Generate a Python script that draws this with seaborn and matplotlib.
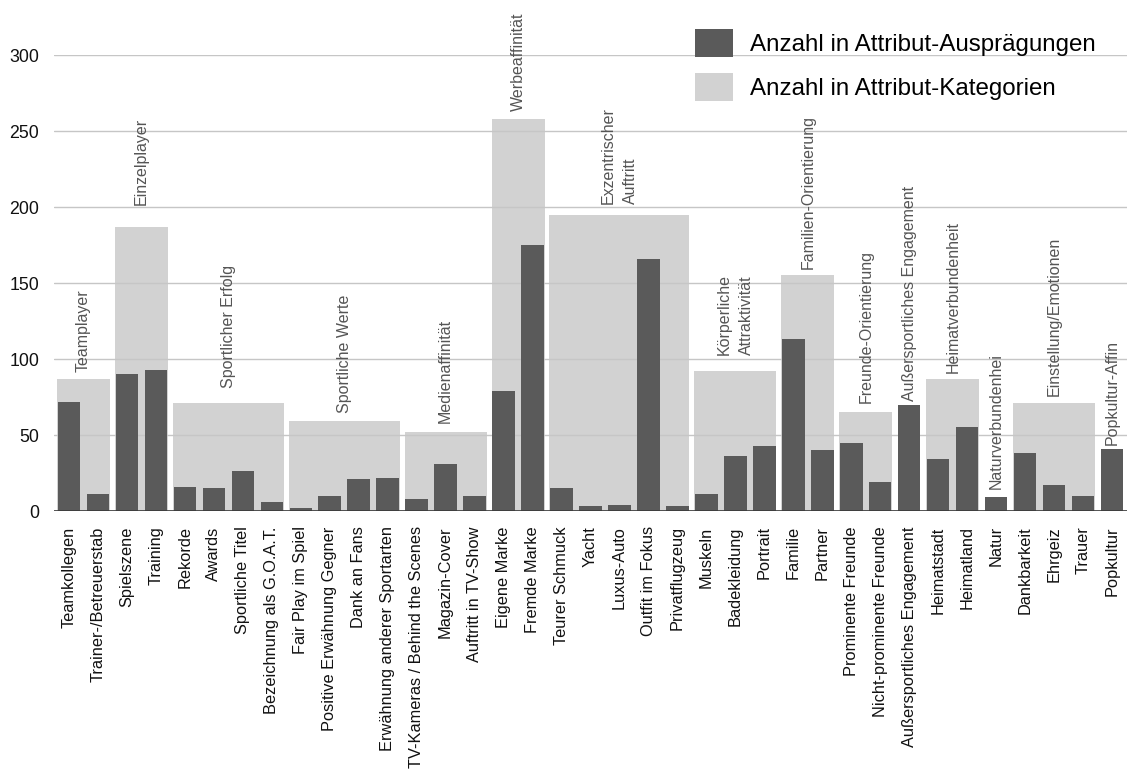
import numpy as np
import pandas as pd
import matplotlib
matplotlib.use("Agg")
import matplotlib.pyplot as plt
import seaborn as sns
from matplotlib.patches import Patch

# Attribute-level counts (dark bars)
attributes = [
    "Teamkollegen", "Trainer-/Betreuerstab", "Spielszene", "Training",
    "Rekorde", "Awards", "Sportliche Titel", "Bezeichnung als G.O.A.T.",
    "Fair Play im Spiel", "Positive Erwähnung Gegner", "Dank an Fans",
    "Erwähnung anderer Sportarten", "TV-Kameras / Behind the Scenes",
    "Magazin-Cover", "Auftritt in TV-Show", "Eigene Marke", "Fremde Marke",
    "Teurer Schmuck", "Yacht", "Luxus-Auto", "Outfit im Fokus", "Privatflugzeug",
    "Muskeln", "Badekleidung", "Portrait", "Familie", "Partner",
    "Prominente Freunde", "Nicht-prominente Freunde", "Außersportliches Engagement",
    "Heimatstadt", "Heimatland", "Natur", "Dankbarkeit", "Ehrgeiz", "Trauer",
    "Popkultur",
]
attribute_counts = [
    72, 11, 90, 93,
    16, 15, 26, 6,
    2, 10, 21, 22,
    8, 31, 10,
    79, 175,
    15, 3, 4, 166, 3,
    11, 36, 43,
    113, 40,
    45, 19,
    70,
    34, 55,
    9,
    38, 17, 10,
    41,
]

# Category-level counts (light background bars) and how many attributes each spans
categories = [
    "Teamplayer", "Einzelplayer", "Sportlicher Erfolg", "Sportliche Werte",
    "Medienaffinität", "Werbeaffinität", "Exzentrischer\nAuftritt",
    "Körperliche\nAttraktivität", "Familien-Orientierung", "Freunde-Orientierung",
    "Außersportliches Engagement", "Heimatverbundenheit", "Naturverbundenhei",
    "Einstellung/Emotionen", "Popkultur-Affin",
]
category_sizes = [2, 2, 4, 4, 3, 2, 5, 3, 2, 2, 1, 2, 1, 3, 1]
category_counts = [87, 187, 71, 59, 52, 258, 195, 92, 155, 65, 70, 87, 9, 71, 41]

y_ticks = [0, 50, 100, 150, 200, 250, 300]

DARK = "#5a5a5a"
LIGHT = "#d2d2d2"
BAR_W = 0.77

sns.set_theme(style="white")
plt.rcParams["font.family"] = ["Liberation Sans", "DejaVu Sans"]

fig = plt.figure(figsize=(11.33, 7.78), dpi=100)
ax = fig.add_axes([54.3 / 1133, 1 - 511 / 778, (1126.7 - 54.3) / 1133, 456 / 778])

df = pd.DataFrame({"attribute": attributes, "count": attribute_counts})
sns.barplot(data=df, x="attribute", y="count", color=DARK, saturation=1,
            width=BAR_W, ax=ax, zorder=3, linewidth=0, edgecolor="none")

# Category background bars spanning their attribute slots
starts = np.concatenate([[0], np.cumsum(category_sizes)[:-1]])
ends = starts + np.array(category_sizes) - 1
centers = (starts + ends) / 2
widths = np.where(np.array(category_sizes) > 1,
                  (ends - starts) + 0.83, BAR_W)
ax.bar(centers, category_counts, width=widths, color=LIGHT, zorder=1, linewidth=0)

# Rotated category names above each background bar
label_pads = [7, 22, 15, 8, 9, 8, 11, 16, 6, 9, 4, 6, 8, 7, 4]
for cx, val, name, pad in zip(centers, category_counts, categories, label_pads):
    ax.annotate(name, xy=(cx, val), xytext=(0, pad), textcoords="offset pixels",
                rotation=90, ha="center", va="bottom", multialignment="left",
                linespacing=1.6, fontsize=11.5, color="#555555",
                annotation_clip=False)

ax.set_xlim(-0.5, len(attributes) - 0.5)
ax.set_ylim(0, 300)
ax.set_yticks(y_ticks)
ax.set_yticklabels([str(t) for t in y_ticks], fontsize=12.8, color="#111111")
ax.set_xticks(range(len(attributes)))
ax.set_xticklabels(attributes, rotation=90, fontsize=11.8, color="#111111",
                   va="top", ha="center")
ax.tick_params(axis="x", length=0, pad=11)
ax.tick_params(axis="y", length=0, pad=11)
ax.set_xlabel("")
ax.set_ylabel("")

ax.set_axisbelow("line")
ax.yaxis.grid(True, color="#c6c6c6", linewidth=1.0, zorder=2)
ax.xaxis.grid(False)
for s in ["left", "right", "top", "bottom"]:
    ax.spines[s].set_visible(False)
ax.axhline(0, color="#3a3a3a", linewidth=1.2, zorder=4)

handles = [Patch(facecolor=DARK, edgecolor="none"),
           Patch(facecolor=LIGHT, edgecolor="none")]
fig.legend(handles, ["Anzahl in Attribut-Ausprägungen", "Anzahl in Attribut-Kategorien"],
           loc="upper left", bbox_to_anchor=(695 / 1133, 1 - 29 / 778),
           frameon=False, fontsize=17.4, handlelength=1.57, handleheight=1.4,
           handletextpad=0.7, labelspacing=0.66, borderpad=0, borderaxespad=0,
           labelcolor="#000000")

fig.savefig("out.png", dpi=100)
